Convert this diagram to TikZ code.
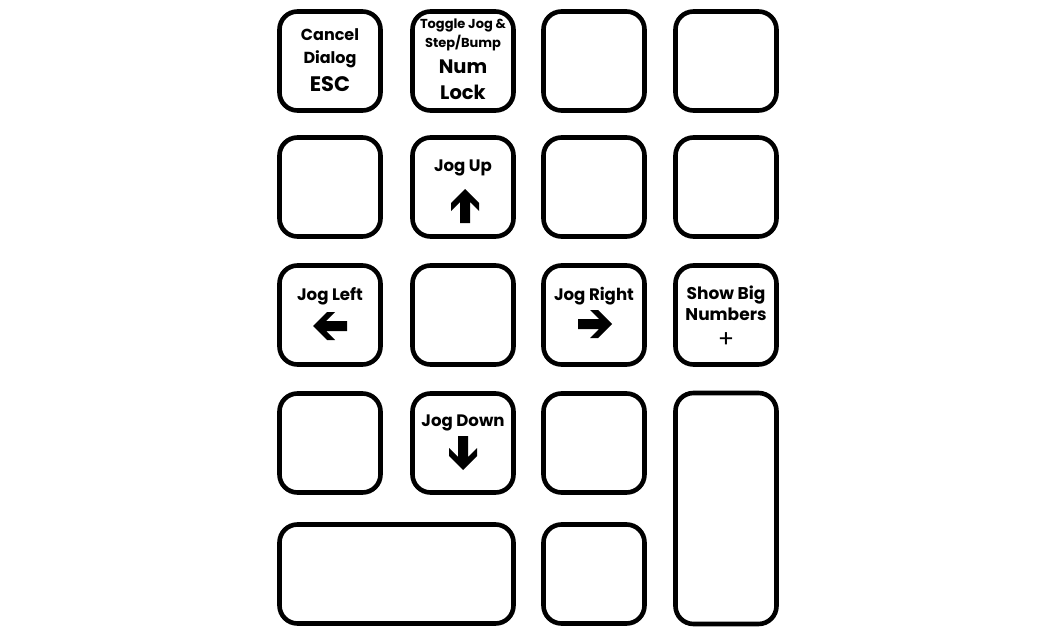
\documentclass[tikz,border=0pt]{standalone}
\usepackage{fontspec}
\setmainfont{Poppins}
\begin{document}
\begin{tikzpicture}[x=1pt,y=-1pt,
  key/.style={draw=black,line width=4.6pt,rounded corners=18pt,fill=white,
    minimum width=101pt,minimum height=99pt,inner sep=0pt,outer sep=0pt},
  lbl/.style={font=\bfseries\fontsize{16.6}{23}\selectfont,align=center,inner sep=0pt},
  pics/barrow/.style={code={
    \fill[black] (17,0) -- (3,-14) -- (-5,-14) -- (4,-5) -- (-17,-5) -- (-17,5)
      -- (4,5) -- (-5,14) -- (3,14) -- cycle;}}]
\useasboundingbox (0,0) rectangle (1050,634);
% row 1
\node[key] (k11) at (330,61) {};
\node[key] (k12) at (463,61) {};
\node[key] (k13) at (594,61) {};
\node[key] (k14) at (726,61) {};
% row 2
\node[key] (k21) at (330,187) {};
\node[key] (k22) at (463,187) {};
\node[key] (k23) at (594,187) {};
\node[key] (k24) at (726,187) {};
% row 3
\node[key] (k31) at (330,315) {};
\node[key] (k32) at (463,315) {};
\node[key] (k33) at (594,315) {};
\node[key] (k34) at (726,315) {};
% row 4
\node[key] (k41) at (330,443) {};
\node[key] (k42) at (463,443) {};
\node[key] (k43) at (594,443) {};
\node[key,minimum height=231pt] (k44) at (726,508.5) {};
% row 5
\node[key,minimum width=234pt] (k51) at (396.5,574) {};
\node[key] (k53) at (594,574) {};
% texts
\node[lbl,font=\bfseries\fontsize{16}{23}\selectfont] (t11a) at (330,48) {Cancel\\Dialog};
\node[lbl,font=\bfseries\fontsize{21}{23}\selectfont] (t11b) at (330,84) {ESC};
\node[lbl,font=\bfseries\fontsize{13}{19}\selectfont] (t12a) at (463,35) {Toggle Jog \&\\Step/Bump};
\node[lbl,font=\bfseries\fontsize{19.5}{26}\selectfont] (t12b) at (463,80) {Num\\Lock};
\node[lbl] (t22) at (463,168) {Jog Up};
\node[lbl] (t31) at (330,296) {Jog Left};
\node[lbl] (t33) at (594,296) {Jog Right};
\node[lbl,font=\bfseries\fontsize{17}{21}\selectfont] (t34) at (726,303) {Show Big\\Numbers};
\node[lbl,font=\fontsize{24}{24}\selectfont] (t34b) at (726,340) {+};
\node[lbl] (t42) at (463,423) {Jog Down};
\pic[rotate=90] at (465,206) {barrow};
\pic[rotate=180] at (330,326) {barrow};
\pic at (595,324) {barrow};
\pic[rotate=-90] at (463,453) {barrow};
\end{tikzpicture}
\end{document}
